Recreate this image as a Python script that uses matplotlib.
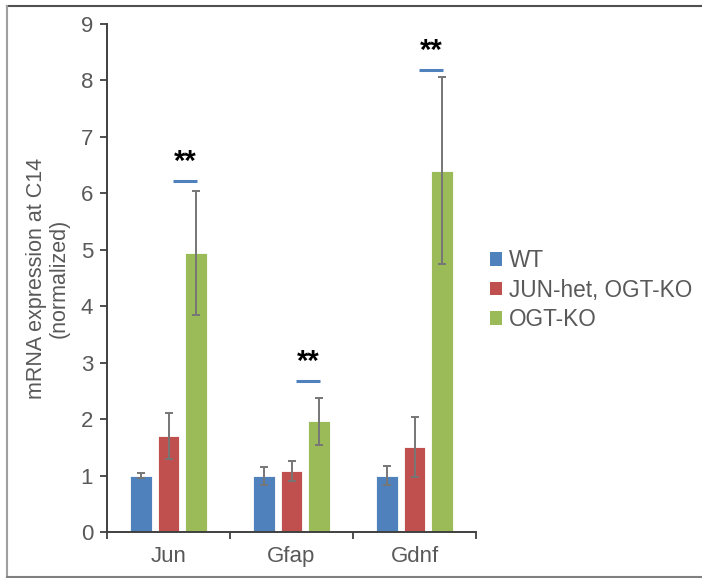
import matplotlib
matplotlib.use("Agg")
import matplotlib.pyplot as plt
from matplotlib.lines import Line2D
from matplotlib.patches import Patch
import numpy as np

plt.rcParams['font.family'] = ['Liberation Sans', 'DejaVu Sans']

categories = ["Jun", "Gfap", "Gdnf"]
series_names = ["WT", "JUN-het, OGT-KO", "OGT-KO"]
wt_vals = [1.0, 1.0, 1.0]
wt_err = [0.05, 0.16, 0.17]
jun_vals = [1.70, 1.08, 1.50]
jun_err = [0.40, 0.18, 0.53]
ogt_vals = [4.95, 1.96, 6.40]
ogt_err = [1.10, 0.41, 1.66]
sig_levels = [6.22, 2.68, 8.19]
sig_labels = ["**", "**", "**"]
y_ticks = [0, 1, 2, 3, 4, 5, 6, 7, 8, 9]

colors = ["#4F81BD", "#C0504D", "#9BBB59"]
text_col = "#595959"

W, H = 702, 578
fig = plt.figure(figsize=(W / 100, H / 100), dpi=100)
ax = fig.add_axes([107 / W, 1 - 532 / H, (476 - 107) / W, (532 - 24) / H])

x = np.arange(len(categories))
bw = 0.178
offs = [-0.22, 0.0, 0.22]
vals = [wt_vals, jun_vals, ogt_vals]
errs = [wt_err, jun_err, ogt_err]
for k in range(3):
    ax.bar(x + offs[k], vals[k], width=bw, color=colors[k], edgecolor="white",
           linewidth=0.6, zorder=2)
    ax.errorbar(x + offs[k], vals[k], yerr=errs[k], fmt="none", ecolor="#767676",
                elinewidth=1.4, capsize=3, capthick=1.4, zorder=3)

for i in range(len(categories)):
    ax.plot([x[i] + 0.04, x[i] + 0.23], [sig_levels[i]] * 2, color="#4F81BD",
            lw=2.2, solid_capstyle="butt", zorder=4)
    ax.text(x[i] + 0.135, sig_levels[i] + 0.08, sig_labels[i], ha="center",
            va="bottom", fontsize=21, fontweight="bold", color="black")

ax.set_xlim(-0.5, len(categories) - 0.5)
ax.set_ylim(0, 9)
ax.set_yticks(y_ticks)
ax.set_yticklabels([str(t) for t in y_ticks])
ax.set_xticks(np.arange(len(categories) + 1) - 0.5)
ax.set_xticklabels([])
ax.set_xticks(x, minor=True)
ax.set_xticklabels(categories, minor=True)
ax.tick_params(axis="x", which="minor", length=0, pad=10, labelsize=16, labelcolor=text_col)
ax.tick_params(axis="x", which="major", length=5, width=1.3, color="#404040", direction="out")
ax.tick_params(axis="y", length=5, width=1.3, color="#404040", direction="out",
               labelsize=16, labelcolor=text_col, pad=5)
for s in ["top", "right"]:
    ax.spines[s].set_visible(False)
for s in ["left", "bottom"]:
    ax.spines[s].set_color("#404040")
    ax.spines[s].set_linewidth(1.4)

ax.set_ylabel("mRNA expression at C14\n(normalized)", fontsize=15.5, color=text_col,
              labelpad=8, linespacing=1.1)

handles = [Patch(facecolor=c, edgecolor="none") for c in colors]
fig.legend(handles, series_names, loc="center left",
           bbox_to_anchor=(490 / W, 1 - 290 / H), frameon=False, fontsize=16.3,
           handlelength=0.55, handleheight=0.55, handletextpad=0.3,
           labelspacing=0.3, labelcolor=text_col, borderaxespad=0, borderpad=0)

# figure frame lines
fig.add_artist(Line2D([7 / W, 1], [1 - 6 / H, 1 - 6 / H], color="#505050", lw=1.5,
                      transform=fig.transFigure))
fig.add_artist(Line2D([7 / W, 7 / W], [1 / H, 1 - 6 / H], color="#a0a0a0", lw=1.5,
                      transform=fig.transFigure))
fig.add_artist(Line2D([7 / W, 1], [1 / H, 1 / H], color="#808080", lw=1.5,
                      transform=fig.transFigure))

fig.savefig("out.png", dpi=100)
